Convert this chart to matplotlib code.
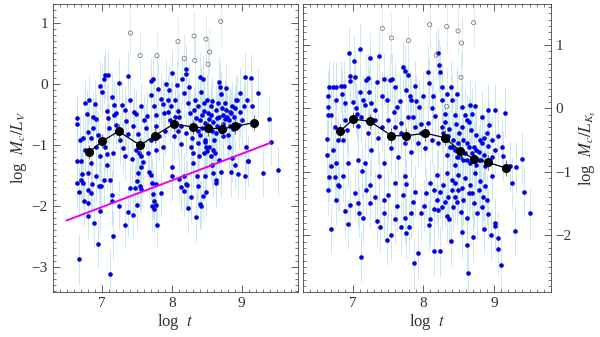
import numpy as np
import matplotlib
matplotlib.use('Agg')
import matplotlib.pyplot as plt
from matplotlib.ticker import MultipleLocator

plt.rcParams['font.family'] = ['Liberation Serif', 'DejaVu Serif']
plt.rcParams['mathtext.fontset'] = 'stix'

# ---- left panel: log M_c/L_V vs log t ----
v_logt = [6.64, 6.65, 6.64, 6.70, 6.73, 6.76, 6.79, 6.80, 6.84, 6.84, 6.87, 6.90, 6.92, 6.95, 6.97,
          7.00, 7.03, 7.05, 7.09, 7.07, 7.09, 7.11, 7.05, 7.08, 7.14, 7.17, 7.18, 7.20, 7.25, 7.29,
          7.33, 7.35, 7.37, 7.38, 7.30, 7.43, 7.46, 7.49, 7.52, 7.53, 7.56, 7.59, 7.63, 7.65, 7.70,
          7.73, 7.71, 7.74, 7.77, 7.78, 7.81, 7.85, 7.87, 7.88, 7.90, 7.92, 7.95, 7.96, 7.98, 8.01,
          8.03, 8.04, 8.07, 8.09, 8.11, 8.13, 8.15, 8.17, 8.20, 8.21, 8.23, 8.25, 8.26, 8.29, 8.31,
          8.34, 8.35, 8.37, 8.40, 8.42, 8.43, 8.45, 8.46, 8.47, 8.48, 8.49, 8.51, 8.52, 8.54, 8.56,
          8.58, 8.58, 8.60, 8.62, 8.65, 8.68, 8.69, 8.71, 8.72, 8.74, 8.76, 8.77, 8.79, 8.81, 8.82,
          8.83, 8.86, 8.89, 8.94, 8.96, 9.05, 9.06, 9.14, 9.09, 9.23, 9.39, 9.42, 8.67, 8.63, 8.73,
          8.84, 8.43, 8.40, 7.56, 8.01, 8.30, 8.58, 8.86, 9.09, 8.67, 7.07, 8.39, 8.91,
          6.64, 6.67, 6.71, 6.72, 6.73, 6.75, 6.80, 6.80, 6.81, 6.80, 6.84, 6.86, 6.89, 6.92, 6.96,
          6.97, 6.99, 6.94, 7.03, 6.67, 7.12, 7.14, 7.14, 7.16, 7.12, 7.25, 7.33, 7.38, 7.41, 7.44,
          7.47, 7.50, 7.51, 7.52, 7.54, 7.56, 7.67, 7.70, 7.72, 7.73, 7.72, 7.74, 7.75, 7.77, 7.78,
          7.79, 7.85, 8.01, 8.11, 8.14, 8.17, 8.18, 8.20, 8.22, 8.24, 8.28, 8.36, 8.37, 8.35, 8.41,
          8.42, 8.45, 8.47, 8.49, 8.59, 8.64, 8.64, 8.71, 8.85, 8.95, 9.05, 9.30, 9.52,
          8.32, 8.38, 8.40, 8.46, 8.51, 8.53, 8.56, 8.59, 8.63, 8.65, 8.66, 8.70, 8.73, 8.76, 8.78,
          8.82, 8.85, 8.88, 8.90, 8.92, 8.97, 9.00, 8.98, 9.03, 9.08, 9.15, 8.48, 8.53, 8.56, 8.59,
          8.46, 8.38, 8.28, 8.20, 8.14, 8.09, 8.04, 7.99, 7.94, 7.89, 7.82, 7.78, 7.70, 7.66, 7.61,
          7.56, 7.49, 7.44, 7.40, 7.33, 7.26, 7.21, 7.16, 6.97, 6.92, 6.88, 6.82, 6.76, 6.69]
v_ml = [-0.57, -0.66, -1.26, -1.26, -0.89, -0.32, -0.50, -0.79, -0.89, -1.30, -0.72, -0.34, -0.58, -0.84, -0.03,
        -0.13, 0.07, 0.15, 0.14, -0.44, -0.57, -0.72, -1.04, -1.16, -0.22, -0.35, -0.51, -0.67, 0.01, -0.35,
        -0.43, -0.61, -0.83, 0.13, -1.05, -1.23, -0.46, -0.50, -0.82, -1.14, -1.19, -1.28, -0.73, -0.53, 0.04,
        0.07, -0.18, -0.37, -0.51, -0.70, -0.08, -0.25, -0.34, -1.03, -0.77, 0.00, -0.46, -0.11, -0.60, 0.17,
        -0.86, -0.26, -0.02, -0.44, -0.55, -0.99, 0.08, -0.16, 0.24, 0.16, -0.32, -0.05, -0.48, -0.89, -1.14,
        -0.26, -0.56, -0.78, 0.11, -0.13, -0.51, 0.07, -0.32, -0.64, -0.92, -1.03, -1.11, -0.48, -0.58, -0.37,
        -0.29, -0.77, -0.92, -1.14, -0.70, 0.03, -0.05, -0.17, -0.40, -0.51, -0.32, -0.07, -0.55, -0.84, -1.03,
        -0.46, -0.36, -0.54, -0.27, -0.67, 0.11, -1.03, 0.09, -1.27, -0.16, -0.58, -0.95, -0.54, -0.43, -0.66,
        -0.70, -0.73, -0.84, -1.36, -1.36, -1.30, -1.33, -1.21, -1.26, -1.25, -1.34, -1.19, -1.33,
        -1.63, -1.77, -1.57, -1.48, -1.63, -1.93, -1.46, -1.74, -1.96, -2.16, -1.79, -1.65, -2.28, -1.51, -1.67,
        -2.08, -1.68, -2.62, -1.57, -2.88, -1.57, -1.82, -1.93, -2.49, -3.12, -2.00, -2.31, -2.11, -1.71, -2.15,
        -1.71, -1.99, -1.60, -1.46, -1.68, -1.72, -1.45, -1.49, -1.62, -1.81, -2.01, -2.05, -1.92, -1.98, -1.65,
        -2.31, -1.79, -1.52, -1.56, -1.69, -1.52, -1.76, -1.65, -1.66, -2.04, -1.86, -1.52, -1.67, -2.19, -1.97,
        -2.00, -1.84, -1.52, -1.77, -1.46, -1.57, -1.62, -1.45, -1.45, -1.48, -1.52, -1.46, -1.42,
        -0.43, -0.36, -0.60, -0.45, -0.26, -0.70, -0.51, -0.62, -0.81, -0.56, -0.32, -0.78, -0.86, -0.58, -0.43,
        -0.59, -0.48, -0.75, -0.40, -0.26, -0.47, -0.59, -0.15, -0.37, -0.26, -0.37, -0.95, -1.03, -1.19, -1.08,
        -1.14, -0.97, -1.03, -0.81, -0.70, -0.78, -0.54, -0.37, -0.26, -0.48, -0.86, -1.08, -0.92, -1.14, -0.59,
        -0.37, -1.08, -0.70, -0.26, -1.19, -0.92, -0.48, -1.14, -1.19, -1.03, -0.54, -0.26, -1.08, -0.92]

v_open_logt = [7.41, 7.55, 7.79, 8.09, 8.18, 8.32, 8.33, 8.49, 8.54, 8.52, 8.70]
v_open_ml = [0.83, 0.46, 0.46, 0.69, 0.41, 0.78, 0.38, 0.73, 0.52, 0.32, 1.02]

bin_logt = [6.82, 7.01, 7.24, 7.55, 7.76, 8.03, 8.30, 8.52, 8.72, 8.91, 9.17]
v_bin_ml = [-1.12, -0.94, -0.78, -1.01, -0.85, -0.66, -0.71, -0.73, -0.74, -0.70, -0.64]

fit_logt = [6.50, 9.41]
fit_ml = [-2.24, -0.97]

# ---- right panel: log M_c/L_Ks vs log t ----
k_logt = [6.65, 6.65, 6.65, 6.64, 6.64, 6.67, 6.69, 6.73, 6.75, 6.76, 6.76, 6.83, 6.85, 6.88, 6.86,
          6.90, 6.92, 6.95, 6.96, 6.97, 7.00, 7.02, 7.04, 7.05, 7.06, 7.08, 7.10, 7.11, 7.15, 7.17,
          7.19, 7.22, 7.23, 7.25, 7.26, 7.32, 7.34, 7.38, 7.42, 7.45, 7.48, 7.53, 7.56, 7.58, 7.60,
          7.63, 7.67, 7.68, 7.71, 7.74, 7.76, 7.78, 7.81, 7.83, 7.86, 7.88, 7.90, 7.94, 7.96, 8.00,
          8.06, 8.08, 8.12, 8.14, 8.17, 8.20, 8.22, 8.23, 8.26, 8.27, 8.30, 8.31, 8.34, 8.36, 8.39,
          8.41, 8.44, 8.46, 8.48, 8.50, 8.54, 8.56, 8.59, 8.61, 8.64, 8.66, 8.67, 8.71, 8.73, 8.75,
          8.79, 8.83, 8.86, 8.92, 8.93, 8.97, 9.01, 9.13, 9.15, 9.23, 9.31, 9.39,
          8.33, 8.40, 8.47, 8.54, 8.61, 8.68, 8.75, 8.82, 8.44, 8.34, 8.21, 8.12, 8.02, 7.93, 7.83,
          7.74, 7.64, 7.55, 7.45, 7.36, 7.26, 7.17, 7.08, 6.93, 6.77, 6.70,
          6.67, 6.69, 6.75, 6.80, 6.81, 6.89, 6.96, 6.94, 7.08, 7.09, 7.15, 7.12, 7.14, 7.25, 7.25,
          7.34, 7.37, 7.39, 7.44, 7.48, 7.50, 7.54, 7.63, 7.68, 7.71, 7.74, 7.75, 7.76, 7.80, 7.86,
          7.87, 7.88, 7.93, 8.01, 8.09, 8.08, 8.15, 8.15, 8.15, 8.20, 8.23, 8.24, 8.30, 8.33, 8.36,
          8.39, 8.40, 8.45, 8.47, 8.53, 8.55, 8.61, 8.61, 8.63, 8.68, 8.70, 8.76, 8.86, 8.84, 8.92,
          8.96, 9.01, 9.01, 9.05, 9.06, 9.09, 9.25, 9.30, 9.42, 9.51,
          8.33, 8.40, 8.49, 8.59, 8.66, 8.73, 8.80, 8.87, 8.54, 8.45, 8.28, 8.19, 8.09, 8.97, 7.74,
          7.60, 6.86,
          8.26, 8.28, 8.35, 8.38, 8.42, 8.45, 8.49, 8.52, 8.56, 8.59, 8.64, 8.66, 8.71, 8.75, 8.78,
          8.80, 8.85, 8.87, 8.90, 8.97, 9.01, 9.06, 9.11, 8.54, 8.61, 8.68, 8.83, 8.92, 8.07, 7.97,
          7.88, 7.78, 7.69, 7.60, 7.50, 7.41, 7.31, 7.22, 7.12, 6.89, 6.79, 6.72,
          8.35, 8.42, 8.49, 8.56, 8.64, 8.71, 8.78, 8.83, 8.90, 8.26, 8.19, 8.04, 7.97, 7.83, 7.60,
          7.45, 7.31, 7.19, 7.03, 6.77, 6.65]
k_ml = [0.20, 0.03, -0.11, -0.48, -0.74, 0.34, -0.10, 0.33, -0.30, 0.14, 0.33, 0.35, 0.22, 0.35, -0.49,
        0.08, -0.34, 0.88, 0.51, 0.44, 0.10, 0.75, 0.50, 0.00, -0.08, -0.27, 0.93, 0.26, 0.13, 0.06,
        0.45, 0.48, 0.26, 0.79, 0.08, -0.02, 0.41, 0.82, 0.19, 0.47, 0.13, 0.45, 0.46, -0.05, 0.33,
        0.03, 0.11, -0.23, 0.66, 0.59, 0.29, 0.53, 0.20, 0.13, -0.13, 0.35, 0.12, 0.03, -0.24, 0.19,
        0.58, 0.40, 0.00, 0.20, -0.12, 0.88, 0.68, 0.58, 0.33, 0.13, -0.08, -0.21, 0.23, -0.33, 0.34,
        0.13, -0.10, -0.24, 0.23, -0.38, 0.03, -0.50, -0.10, -0.55, -0.22, 0.05, -0.34, -0.60, 0.04, -0.42,
        -0.68, -0.55, -0.47, -0.59, -0.26, -0.76, -0.02, -0.75, -0.07, -0.91, -0.93, -0.79,
        -0.50, -0.60, -0.76, -0.68, -0.81, -0.71, -0.89, -0.81, -0.89, -0.73, -0.55, -0.50, -0.63, -0.55, -0.68,
        -0.55, -0.76, -0.63, -0.86, -0.47, -0.65, -0.86, -0.81, -0.86, -0.86, -0.91,
        -1.08, -1.90, -1.08, -1.20, -1.23, -1.61, -1.52, -1.82, -1.49, -1.64, -1.72, -2.34, -0.99, -1.49, -1.20,
        -1.78, -1.07, -1.87, -1.44, -2.07, -1.36, -1.99, -1.53, -1.87, -1.36, -1.73, -1.97, -1.19, -1.87, -1.48,
        -2.44, -1.31, -2.28, -1.53, -1.75, -1.84, -1.28, -1.59, -2.25, -1.60, -2.24, -1.32, -1.47, -1.70, -1.75,
        -2.09, -1.29, -1.39, -1.48, -1.63, -1.95, -1.73, -2.15, -2.60, -1.34, -2.02, -1.65, -1.90, -1.39, -1.66,
        -2.00, -1.81, -1.85, -2.04, -2.22, -2.47, -1.18, -1.93, -1.31, -1.65,
        -1.02, -1.13, -1.05, -1.10, -1.21, -1.02, -1.15, -1.23, -1.25, -1.18, -1.20, -1.05, -1.18, -1.07, -1.07,
        -1.18, -1.07,
        -0.29, -0.39, -0.44, -0.60, -0.50, -0.65, -0.55, -0.76, -0.81, -0.70, -0.60, -0.86, -0.76, -0.65, -0.81,
        -0.50, -0.73, -0.91, -0.39, -0.50, -0.65, -0.44, -0.60, -0.29, -0.18, -0.08, -0.13, -0.02, -0.23, -0.39,
        -0.29, -0.13, -0.39, -0.29, -0.18, -0.29, -0.18, -0.39, -0.13, -0.18, -0.49, -0.65,
        -1.39, -1.55, -1.28, -1.44, -1.34, -1.49, -1.28, -1.55, -1.44, -1.55, -1.44, -1.34, -1.65, -1.65, -1.75,
        -1.65, -1.39, -1.28, -1.34, -1.44, -1.28]

k_open_logt = [7.42, 7.55, 7.79, 8.09, 8.18, 8.33, 8.49, 8.54, 8.71, 8.53, 8.33]
k_open_ml = [1.26, 1.11, 1.07, 1.32, 0.84, 1.29, 1.22, 1.03, 1.35, 0.49, 0.03]

k_bin_ml = [-0.36, -0.17, -0.20, -0.43, -0.43, -0.39, -0.46, -0.67, -0.80, -0.85, -0.94]

err_pt = 0.4      # typical individual error
err_bin = 0.12    # error of the binned means

fig = plt.figure(figsize=(6.0, 3.37), dpi=100)
ax1 = fig.add_axes([0.088, 0.134, 0.408, 0.855])
ax2 = fig.add_axes([0.505, 0.134, 0.413, 0.855])


def draw_panel(ax, x, y, ox, oy, by):
    ax.errorbar(x, y, yerr=err_pt, fmt='none', ecolor='#c2e0f0', elinewidth=0.7, alpha=0.8, zorder=1)
    ax.errorbar(ox, oy, yerr=err_pt, fmt='none', ecolor='#d8ebf5', elinewidth=0.7, zorder=1)
    ax.scatter(x, y, s=11, color='#0000e6', linewidths=0, zorder=2)
    ax.scatter(ox, oy, s=9, facecolors='none', edgecolors='#666666', linewidths=0.5, zorder=2)
    ax.errorbar(bin_logt, by, yerr=err_bin, fmt='none', ecolor='#777777', elinewidth=0.8, zorder=3)
    ax.plot(bin_logt, by, '-', color='black', lw=0.9, zorder=4)
    ax.plot(bin_logt, by, 'o', color='black', ms=5.5, zorder=5)
    ax.set_xlim(6.3, 9.8)
    ax.xaxis.set_major_locator(MultipleLocator(1))
    ax.xaxis.set_minor_locator(MultipleLocator(0.1))
    ax.yaxis.set_major_locator(MultipleLocator(1))
    ax.yaxis.set_minor_locator(MultipleLocator(0.1))
    ax.tick_params(which='both', direction='in', top=True, right=True, color='#444444',
                   labelcolor='#333333')
    ax.tick_params(which='major', length=5, width=0.6, labelsize=11)
    ax.tick_params(which='minor', length=2.5, width=0.5)
    for sp in ax.spines.values():
        sp.set_linewidth(0.6)
        sp.set_color('#444444')
    ax.set_xlabel('log  $t$', fontsize=12, labelpad=2, color='#333333')


draw_panel(ax1, v_logt, v_ml, v_open_logt, v_open_ml, v_bin_ml)
ax1.plot(fit_logt, fit_ml, color='#ee00ee', lw=1.4, zorder=4)
ax1.set_ylim(-3.41, 1.31)
ax1.set_ylabel('log  $M_c/L_V$', fontsize=12, labelpad=2, color='#333333')

draw_panel(ax2, k_logt, k_ml, k_open_logt, k_open_ml, k_bin_ml)
ax2.set_ylim(-2.89, 1.65)
ax2.yaxis.tick_right()
ax2.tick_params(which='both', left=True, right=True)
ax2.yaxis.set_label_position('right')
ax2.set_ylabel('log  $M_c/L_{K_s}$', fontsize=12, labelpad=4, color='#333333')

fig.savefig('out.png', dpi=100)
